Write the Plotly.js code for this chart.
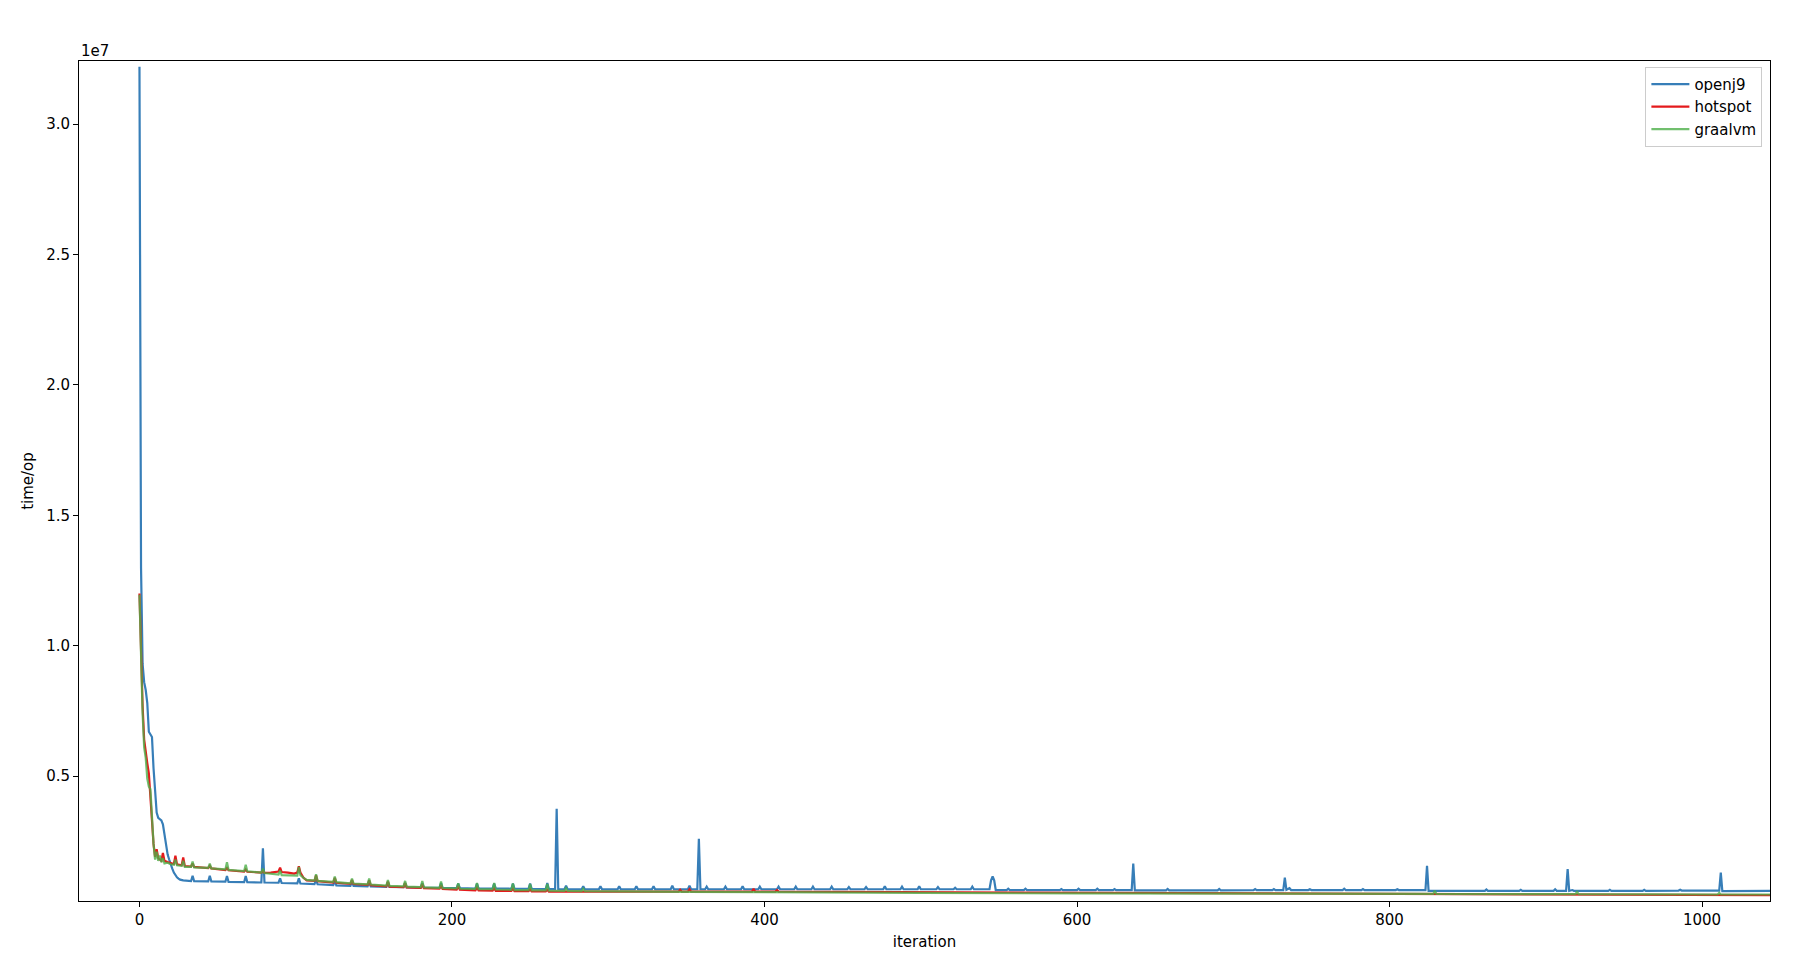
<!DOCTYPE html>
<html>
<head>
<meta charset="utf-8">
<script src="https://cdn.plot.ly/plotly-3.0.1.min.js"></script>
<style>html,body{margin:0;padding:0;background:#fff;}#chart{width:1815px;height:976px;}</style>
</head>
<body>
<div id="chart"></div>
<script>
// values, time/op in millions (1e6)
const UNIT = 1e6;

const openj9X = [0,1,2,3,4,5,6,7,8,9,10,11,12,13,14,15,16,17,18,19,20,21,22,23,24,25,26,28,30,
  33,34,35, 44,45,46, 55,56,57, 67,68,69, 78,79,80, 89,90,91, 101,102,103, 112,113,114,
  124,125,126, 135,136,137, 146,147,148, 158,159,160, 169,170,171, 180,181,182, 192,193,194,
  203,204,205, 215,216,217, 226,227,228, 238,239,240, 249,250,251, 260,261,262, 266,267,268,
  272,273,274, 283,284,285, 294,295,296, 306,307,308, 317,318,319, 328,329,330, 340,341,342,
  351,352,353, 357,358,359, 362,363,364, 374,375,376, 385,386,387, 396,397,398, 408,409,410,
  419,420,421, 430,431,432, 442,443,444, 453,454,455, 464,465,466, 476,477,478, 487,488,489,
  498,499,500, 510,511,512, 521,522,523, 532,533,534, 544,545,546,547,548, 555,556,557,
  566,567,568, 589,590,591, 600,601,602, 612,613,614, 623,624,625, 635,636,637,
  657,658,659, 690,691,692, 713,714,715, 725,726,727, 732,733,734,736,737, 748,749,750,
  770,771,772, 782,783,784, 804,805,806, 823,824,825, 861,862,863, 883,884,885, 905,906,907,
  913,914,915,917,918, 940,941,942, 962,963,964, 985,986,987, 1011,1012,1013, 1050];
const openj9Y = [32.2,13.0,9.3,8.6,8.3,7.8,6.7,6.6,6.5,5.3,4.2,3.6,3.4,3.35,3.3,3.15,2.7,2.3,2.0,1.8,1.6,1.45,1.3,1.2,1.12,1.07,1.03,1.0,0.98,
  0.97,1.18,0.97, 0.96,1.18,0.96, 0.95,1.17,0.94, 0.93,1.17,0.93, 0.92,2.23,0.92, 0.91,1.08,0.9, 0.89,1.08,0.88, 0.86,1.02,0.85,
  0.82,0.98,0.81, 0.79,0.95,0.79, 0.77,0.93,0.77, 0.75,0.92,0.75, 0.74,0.9,0.73, 0.72,0.9,0.72, 0.71,0.9,0.71,
  0.7,0.88,0.7, 0.69,0.88,0.69, 0.69,0.88,0.69, 0.68,0.88,0.68, 0.68,0.88,0.68, 0.67,0.9,0.67, 0.67,3.75,0.67,
  0.66,0.8,0.66, 0.66,0.78,0.66, 0.66,0.78,0.66, 0.66,0.78,0.66, 0.66,0.78,0.66, 0.66,0.78,0.66, 0.66,0.8,0.66,
  0.66,0.8,0.66, 0.66,2.6,0.66, 0.66,0.76,0.66, 0.66,0.76,0.66, 0.66,0.78,0.66, 0.66,0.76,0.66, 0.66,0.76,0.66,
  0.66,0.76,0.66, 0.66,0.76,0.66, 0.66,0.76,0.66, 0.66,0.74,0.66, 0.66,0.74,0.66, 0.66,0.78,0.66, 0.66,0.76,0.66,
  0.66,0.78,0.66, 0.66,0.74,0.66, 0.66,0.72,0.66, 0.66,0.76,0.66, 0.66,1.0,1.15,1.0,0.63, 0.63,0.68,0.63,
  0.63,0.68,0.63, 0.63,0.67,0.63, 0.63,0.68,0.63, 0.63,0.68,0.63, 0.63,0.67,0.63, 0.63,1.65,0.62,
  0.62,0.67,0.62, 0.62,0.67,0.62, 0.63,0.67,0.63, 0.63,0.67,0.63, 0.63,1.11,0.64,0.7,0.63, 0.63,0.66,0.63,
  0.63,0.68,0.63, 0.63,0.67,0.63, 0.63,0.66,0.63, 0.63,1.56,0.6, 0.6,0.65,0.6, 0.6,0.64,0.6, 0.6,0.66,0.6,
  0.6,1.43,0.6,0.63,0.6, 0.6,0.64,0.6, 0.6,0.64,0.6, 0.61,0.64,0.61, 0.61,1.30,0.59, 0.6];

const hotspotX = [0,1,2,3,4,5,6,7,8,9,10,11,12,13,14,15,16,18,20,22,23,24,27,28,29,
  33,34,35, 44,45,46, 55,56,57, 67,68,69, 78,79,80, 84, 89,90,91, 95, 99, 101,102,103, 105,107,
  112,113,114, 124,125,126, 135,136,137, 146,147,148, 158,159,160, 169,170,171, 180,181,182,
  192,193,194, 203,204,205, 215,216,217, 226,227,228, 238,239,240, 249,250,251, 260,261,262,
  280, 300, 345,346,347, 351,352,353, 392,393,394, 407,408,409, 450, 500, 550, 600, 640, 700,
  750, 800, 850, 900, 950, 1000, 1050];
const hotspotY = [12.0,9.6,7.7,6.4,5.85,5.5,5.1,4.2,3.2,2.4,1.9,2.2,1.85,1.8,1.75,2.05,1.75,1.7,1.65,1.63,1.95,1.62,1.58,1.88,1.55,
  1.53,1.65,1.52, 1.47,1.56,1.46, 1.4,1.5,1.39, 1.34,1.42,1.33, 1.3,1.36,1.29, 1.3, 1.34,1.49,1.32, 1.3, 1.26, 1.3,1.54,1.3, 1.1,1.0,
  0.98,1.2,0.97, 0.92,1.1,0.91, 0.87,1.02,0.86, 0.83,1.0,0.82, 0.77,0.95,0.76, 0.74,0.9,0.73, 0.71,0.86,0.7,
  0.68,0.82,0.67, 0.65,0.78,0.64, 0.62,0.72,0.62, 0.61,0.7,0.6, 0.6,0.68,0.59, 0.59,0.66,0.58, 0.58,0.64,0.57,
  0.57, 0.57, 0.57,0.64,0.57, 0.57,0.66,0.57, 0.57,0.68,0.57, 0.57,0.63,0.57, 0.56, 0.56, 0.55, 0.54, 0.52, 0.5,
  0.48, 0.47, 0.46, 0.45, 0.44, 0.43, 0.43];

const graalvmX = [0,1,2,3,4,5,6,7,8,9,10,11,12,13,14,15,16,18,20,22,23,24,27,28,29,
  33,34,35, 44,45,46, 55,56,57, 67,68,69, 78,79,80, 89,90,91, 95, 101,102,103, 105,107,
  112,113,114, 124,125,126, 135,136,137, 146,147,148, 158,159,160, 169,170,171, 180,181,182,
  192,193,194, 203,204,205, 215,216,217, 226,227,228, 238,239,240, 249,250,251, 260,261,262,
  272,273,274, 283,284,285, 350, 400, 500, 600, 700, 800, 828,829,830, 900, 919,920,921,
  1010,1011,1012, 1050];
const graalvmY = [11.95,9.3,7.4,6.1,5.7,4.9,4.6,4.5,3.3,2.4,1.8,2.1,1.75,1.95,1.7,1.85,1.65,1.68,1.62,1.6,1.8,1.58,1.56,1.75,1.52,
  1.52,1.72,1.5, 1.48,1.64,1.46, 1.42,1.7,1.4, 1.36,1.6,1.35, 1.3,1.45,1.28, 1.22,1.38,1.2, 1.19, 1.18,1.52,1.2, 1.1,1.02,
  0.99,1.24,0.98, 0.94,1.15,0.93, 0.89,1.07,0.88, 0.85,1.07,0.84, 0.8,1.01,0.79, 0.77,0.98,0.76, 0.74,0.98,0.73,
  0.71,0.96,0.7, 0.69,0.89,0.68, 0.67,0.9,0.66, 0.66,0.9,0.65, 0.64,0.88,0.63, 0.63,0.86,0.62, 0.62,0.86,0.61,
  0.6,0.7,0.6, 0.59,0.68,0.59, 0.56, 0.54, 0.52, 0.5, 0.49, 0.48, 0.48,0.6,0.48, 0.47, 0.47,0.56,0.47,
  0.46,0.52,0.46, 0.46];

const seriesNames = ['openj9', 'hotspot', 'graalvm'];
const seriesColors = ['#377eb8', '#e41a1c', '#4daf4a'];
const seriesOpacity = [1, 1, 0.8];

const xTickVals = [0, 200, 400, 600, 800, 1000];
const yTickVals = [5, 10, 15, 20, 25, 30];
const yTickText = ['0.5', '1.0', '1.5', '2.0', '2.5', '3.0'];

const seriesX = [openj9X, hotspotX, graalvmX];
const seriesY = [openj9Y, hotspotY, graalvmY];

const traces = seriesNames.map((name, i) => ({
  type: 'scatter',
  mode: 'lines',
  name: name,
  x: seriesX[i],
  y: seriesY[i].map(v => v * UNIT),
  line: {color: seriesColors[i], width: 2.2},
  opacity: seriesOpacity[i],
  hoverinfo: 'x+y+name'
}));

const FONT = 'DejaVu Sans, Liberation Sans, sans-serif';
const FS = 15;

const layout = {
  width: 1815,
  height: 976,
  margin: {l: 79, r: 45, t: 61, b: 75, pad: 0},
  paper_bgcolor: '#ffffff',
  plot_bgcolor: '#ffffff',
  font: {family: FONT, size: FS, color: '#000000'},
  showlegend: true,
  xaxis: {
    range: [-38.7, 1043.5],
    tickvals: xTickVals,
    ticks: 'outside', ticklen: 5, tickwidth: 1, tickcolor: '#000',
    showline: true, mirror: true, linecolor: '#000', linewidth: 1,
    showgrid: false, zeroline: false,
    tickfont: {family: FONT, size: FS, color: '#000'},
    title: {text: 'iteration', font: {family: FONT, size: FS, color: '#000'}, standoff: 8}
  },
  yaxis: {
    range: [0.21 * UNIT, 32.42 * UNIT],
    tickvals: yTickVals.map(v => v * UNIT),
    ticktext: yTickText,
    ticks: 'outside', ticklen: 5, tickwidth: 1, tickcolor: '#000',
    showline: true, mirror: true, linecolor: '#000', linewidth: 1,
    showgrid: false, zeroline: false,
    tickfont: {family: FONT, size: FS, color: '#000'},
    title: {text: 'time/op', font: {family: FONT, size: FS, color: '#000'}, standoff: 8}
  },
  legend: {
    x: 0.9955, xanchor: 'right',
    y: 0.993, yanchor: 'top',
    bgcolor: 'rgba(255,255,255,0.8)',
    bordercolor: '#cccccc', borderwidth: 1,
    font: {family: FONT, size: FS, color: '#000'},
    traceorder: 'normal',
    itemwidth: 38
  },
  annotations: [{
    text: '1e7', xref: 'paper', yref: 'paper', x: 0, y: 1,
    xanchor: 'left', yanchor: 'bottom', showarrow: false, yshift: -1,
    font: {family: FONT, size: FS, color: '#000'}
  }]
};

Plotly.newPlot('chart', traces, layout, {displayModeBar: false, staticPlot: true});
</script>
</body>
</html>
